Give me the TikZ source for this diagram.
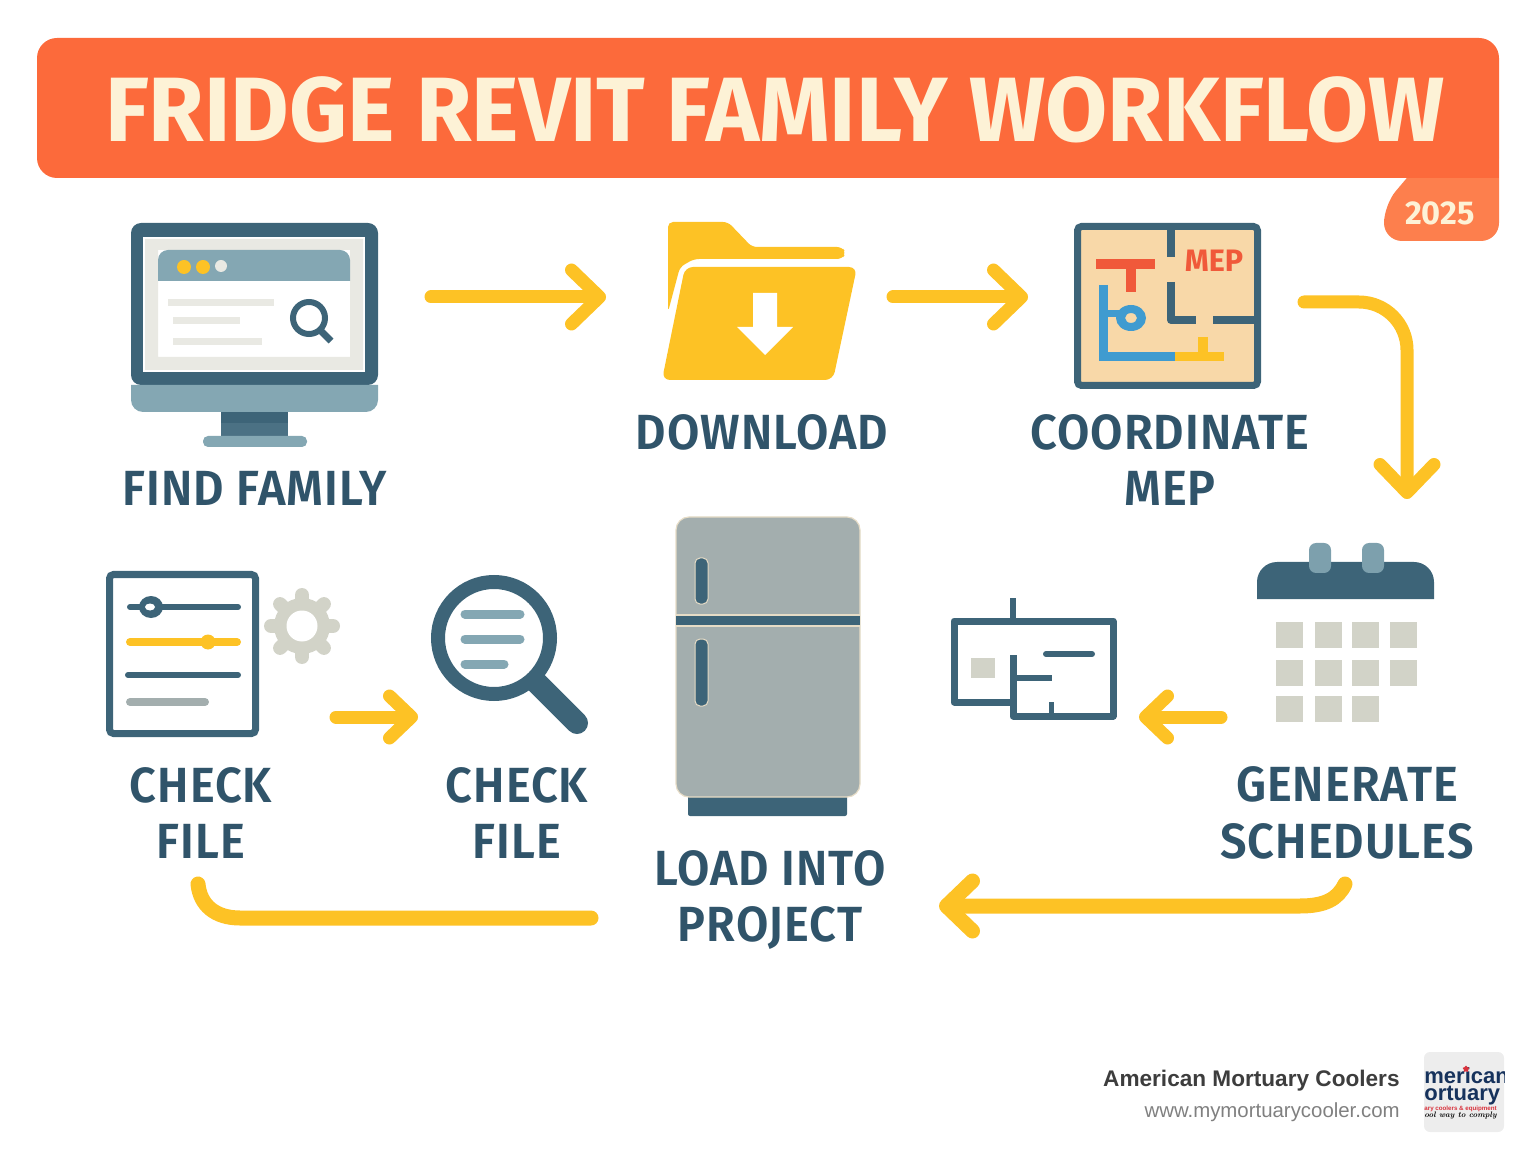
\documentclass[tikz,border=0pt]{standalone}
\usepackage{fontspec}
\usetikzlibrary{arrows.meta,shapes.geometric}
\newfontfamily\titlefont[FakeStretch=0.985]{Fira Sans}
\newfontfamily\labelfont[FakeStretch=0.95,LetterSpace=2]{Fira Sans SemiBold}
\newfontfamily\footfont{Liberation Sans}
\definecolor{deepblue}{HTML}{3D6478}
\definecolor{paleblue}{HTML}{84A7B3}
\definecolor{flowyellow}{HTML}{FDC225}
\definecolor{bannerorange}{HTML}{FC6A3B}
\definecolor{taborange}{HTML}{FD7F4D}
\definecolor{creamtext}{HTML}{FDF2D6}
\definecolor{labelblue}{HTML}{30546A}
\definecolor{softgrey}{HTML}{D2D3C8}
\definecolor{screengrey}{HTML}{E9E9E3}
\definecolor{fridgegrey}{HTML}{A3AEAE}
\definecolor{fridgeedge}{HTML}{E6DCC6}
\definecolor{planbeige}{HTML}{F8D8A8}
\definecolor{pipered}{HTML}{F0593A}
\definecolor{pipeblue}{HTML}{3F9BD0}
\definecolor{logonavy}{HTML}{16325C}
\definecolor{logored}{HTML}{D8323C}
\tikzset{
  flow/.style={draw=flowyellow, line width=6.5pt, line cap=round, line join=round, -{Straight Barb[length=14pt, width=27pt, round]}},
  flowsmall/.style={flow, -{Straight Barb[length=11pt, width=21pt, round]}},
  flowplain/.style={draw=flowyellow, line width=7.5pt, line cap=round},
  steplabel/.style={text=labelblue, align=center, inner sep=0pt, font=\labelfont\fontsize{24.7}{28.25}\selectfont},
  calsquare/.style={rectangle, fill=softgrey, inner sep=0pt, minimum width=13.5pt, minimum height=13pt},
  gearbit/.style={draw=softgrey, line width=7pt, line cap=round},
}
\begin{document}
\begin{tikzpicture}[x=0.5pt, y=-0.5pt]
  \useasboundingbox (0, 0) rectangle (1536, 1154);
  % Banner
  \fill[taborange, rounded corners=9pt] (1439, 140) -- (1384, 205) -- (1384, 241) -- (1499, 241) -- (1499, 140) -- cycle;
  \fill[bannerorange, rounded corners=10pt] (37, 38) rectangle (1499, 178);
  \fill[bannerorange] (1450, 150) rectangle (1499, 178);
  \node (title) [text=creamtext, inner sep=0pt, font=\titlefont\bfseries\fontsize{45.7}{50}\selectfont] at (775, 110) {FRIDGE REVIT FAMILY WORKFLOW};
  \node (year) [text=creamtext, inner sep=0pt, font=\titlefont\bfseries\fontsize{16.5}{20}\selectfont] at (1440, 213) {2025};
  % Monitor
  \fill[deepblue, rounded corners=5pt] (131, 385) -- (131, 223) -- (378, 223) -- (378, 385) -- cycle;
  \fill[white] (143, 237) rectangle (365, 372);
  \fill[screengrey, even odd rule] (145, 239) rectangle (363, 370) (158, 250) rectangle (350, 357);
  \fill[paleblue] (158, 281) [rounded corners=5pt] -- (158, 250) -- (350, 250) [sharp corners] -- (350, 281) -- cycle;
  \fill[flowyellow] (184, 267) circle[radius=7];
  \fill[flowyellow] (203, 267) circle[radius=7];
  \fill[screengrey] (221, 266) circle[radius=6];
  \draw[screengrey, line width=3.5pt] (168, 303) -- (274, 303);
  \draw[screengrey, line width=3.5pt] (173, 321) -- (240, 321);
  \draw[screengrey, line width=3.5pt] (173, 342) -- (262, 342);
  \draw[deepblue, line width=3pt] (309, 318) circle[radius=16];
  \draw[deepblue, line width=3.5pt] (320, 330) -- (331, 341);
  \fill[paleblue] (131, 385) [rounded corners=6pt] -- (131, 412) -- (378, 412) [sharp corners] -- (378, 385) -- cycle;
  \fill[deepblue] (221, 412) rectangle (288, 423);
  \fill[deepblue!80!paleblue] (221, 423) rectangle (288, 436);
  \fill[paleblue, rounded corners=2.5pt] (203, 436) rectangle (307, 447);
  % Folder
  \fill[flowyellow, rounded corners=2.5pt] (668, 312) -- (668, 222) -- (728, 222) -- (752, 247) -- (842, 247) -- (846, 253) -- (842, 259) -- (694, 259) -- (680, 267) -- cycle;
  \fill[flowyellow, rounded corners=4pt] (685, 267) -- (857, 267) -- (833, 380) -- (662, 380) -- cycle;
  \fill[white] (753, 293) -- (777, 293) -- (777, 327) -- (793, 327) -- (765, 355) -- (737, 327) -- (753, 327) -- cycle;
  % MEP plan
  \draw[deepblue, fill=planbeige, line width=3.5pt, rounded corners=2pt] (1077.5, 226.5) rectangle (1257.5, 385.5);
  \draw[deepblue, line width=4pt] (1171, 228) -- (1171, 257);
  \draw[deepblue, line width=4pt, line join=round] (1171, 282) -- (1171, 320) -- (1196, 320);
  \draw[deepblue, line width=4pt] (1213, 320) -- (1256, 320);
  \draw[pipered, line width=5pt] (1096, 264) -- (1155, 264);
  \draw[pipered, line width=5pt] (1131, 264) -- (1131, 292);
  \draw[pipeblue, line width=4.5pt] (1103, 285) -- (1103, 357) -- (1175, 357);
  \draw[pipeblue, line width=3.5pt] (1103, 314) -- (1122, 314);
  \fill[pipeblue, even odd rule] (1131, 318) ellipse[x radius=15, y radius=13] (1131, 318) ellipse[x radius=6, y radius=5];
  \draw[flowyellow, line width=4.5pt] (1175, 357) -- (1224, 357);
  \draw[flowyellow, line width=5pt] (1203, 337) -- (1203, 357);
  \node (mep-tag) [text=pipered, inner sep=0pt, font=\titlefont\bfseries\fontsize{15.5}{18}\selectfont] at (1214, 261) {MEP};
  % Checklist
  \draw[deepblue, line width=3.5pt, rounded corners=2pt] (109.5, 574.5) rectangle (255.5, 733.5);
  \draw[deepblue, line width=3pt, line cap=round] (130, 607) -- (238, 607);
  \fill[deepblue] (151, 607) ellipse[x radius=12, y radius=11];
  \fill[white] (150, 607) ellipse[x radius=5, y radius=3.5];
  \draw[flowyellow, line width=4pt, line cap=round] (130, 642) -- (237, 642);
  \fill[flowyellow] (208, 642) circle[radius=7.5];
  \draw[deepblue, line width=3pt, line cap=round] (128, 675) -- (238, 675);
  \draw[fridgegrey, line width=4pt, line cap=round] (130, 702) -- (205, 702);
  % Gear
  \draw[gearbit] (302, 626) -- ++(0:31);
  \draw[gearbit] (302, 626) -- ++(45:31);
  \draw[gearbit] (302, 626) -- ++(90:31);
  \draw[gearbit] (302, 626) -- ++(135:31);
  \draw[gearbit] (302, 626) -- ++(180:31);
  \draw[gearbit] (302, 626) -- ++(225:31);
  \draw[gearbit] (302, 626) -- ++(270:31);
  \draw[gearbit] (302, 626) -- ++(315:31);
  \fill[softgrey] (302, 626) circle[radius=28];
  \fill[white] (302, 626) circle[radius=15.5];
  % Magnifier
  \draw[deepblue, line width=11pt, line cap=round] (537, 683) -- (577, 723);
  \draw[deepblue, fill=white, line width=7pt] (494, 638) circle[radius=56];
  \draw[paleblue, line width=4.5pt, line cap=round] (465, 614) -- (520, 614);
  \draw[paleblue, line width=4.5pt, line cap=round] (465, 639) -- (520, 639);
  \draw[paleblue, line width=4.5pt, line cap=round] (465, 664) -- (504, 664);
  % Fridge
  \fill[deepblue, rounded corners=1pt] (688, 790) rectangle (847, 816);
  \draw[fridgeedge, fill=fridgegrey, line width=0.6pt, rounded corners=6.5pt] (676, 517) rectangle (860, 797);
  \fill[fridgeedge] (676, 614) rectangle (860, 627);
  \fill[deepblue] (676, 616) rectangle (860, 625);
  \draw[fridgeedge, fill=deepblue, line width=0.5pt, rounded corners=2.5pt] (695, 558) rectangle (708, 604);
  \draw[fridgeedge, fill=deepblue, line width=0.5pt, rounded corners=2.5pt] (695, 639) rectangle (708, 706);
  % Floor plan
  \draw[deepblue, line width=3.5pt, line join=round] (1013, 702) -- (954, 702) -- (954, 621) -- (1113, 621) -- (1113, 716) -- (1013, 716) -- (1013, 655);
  \draw[deepblue, line width=3pt] (1013, 598) -- (1013, 621);
  \draw[deepblue, line width=3pt, line cap=round] (1046, 654) -- (1092, 654);
  \draw[deepblue, line width=3pt] (1013, 678) -- (1052, 678);
  \draw[deepblue, line width=2.5pt] (1051, 702) -- (1051, 716);
  \fill[softgrey] (971, 658) rectangle (995, 678);
  % Calendar
  \fill[deepblue] (1257, 599) [rounded corners=10pt] -- (1257, 562) -- (1434, 562) [sharp corners] -- (1434, 599) -- cycle;
  \fill[paleblue!90!deepblue, rounded corners=3.5pt] (1309, 543) rectangle (1331, 573);
  \fill[paleblue!90!deepblue, rounded corners=3.5pt] (1362, 543) rectangle (1384, 573);
  \node (cal-1) [calsquare] at (1289.5, 635) {};
  \node (cal-2) [calsquare] at (1328, 635) {};
  \node (cal-3) [calsquare] at (1365.5, 635) {};
  \node (cal-4) [calsquare] at (1403.5, 635) {};
  \node (cal-5) [calsquare] at (1289.5, 672.5) {};
  \node (cal-6) [calsquare] at (1328, 672.5) {};
  \node (cal-7) [calsquare] at (1365.5, 672.5) {};
  \node (cal-8) [calsquare] at (1403.5, 672.5) {};
  \node (cal-9) [calsquare] at (1289.5, 709) {};
  \node (cal-10) [calsquare] at (1328, 709) {};
  \node (cal-11) [calsquare] at (1365.5, 709) {};
  % Labels
  \node (find) [steplabel] at (255, 488) {FIND FAMILY};
  \node (download) [steplabel] at (762, 432) {DOWNLOAD};
  \node (coordinate) [steplabel] at (1170, 460) {COORDINATE\\MEP};
  \node (checkone) [steplabel] at (201, 813) {CHECK\\FILE};
  \node (checktwo) [steplabel] at (517, 813) {CHECK\\FILE};
  \node (load) [steplabel] at (770, 900) {LOAD INTO\\PROJECT};
  \node (generate) [steplabel] at (1347, 813) {GENERATE\\SCHEDULES};
  % Arrow
  \coordinate (find-out) at (431, 297);
  \coordinate (download-in) at (606, 297);
  \coordinate (download-out) at (893, 297);
  \coordinate (coordinate-in) at (1028, 297);
  \coordinate (coordinate-out) at (1304, 302);
  \coordinate (generate-in) at (1407, 499);
  \coordinate (generate-left) at (1221, 717);
  \coordinate (plan-in) at (1139, 717);
  \coordinate (generate-out) at (1345, 884);
  \coordinate (load-in) at (939, 906);
  \coordinate (load-out) at (591, 918);
  \coordinate (checkone-out) at (198, 884);
  \coordinate (checkone-right) at (336, 717);
  \coordinate (checktwo-in) at (418, 717);
  \draw[flow] (find-out) -- (download-in);
  \draw[flow] (download-out) -- (coordinate-in);
  \draw[flow, rounded corners=24pt] (coordinate-out) -| (generate-in);
  \draw[flowsmall] (generate-left) -- (plan-in);
  \draw[flow, line width=7.5pt, -{Straight Barb[length=13pt, width=25pt, round]}] (generate-out) .. controls (1338, 899) and (1325, 906) .. (1300, 906) -- (load-in);
  \draw[flowplain] (load-out) -- (240, 918) .. controls (215, 918) and (200, 905) .. (checkone-out);
  \draw[flowsmall] (checkone-right) -- (checktwo-in);
  % Footer
  \node (brand) [anchor=base east, inner sep=0pt, text=black!76, font=\footfont\bfseries\fontsize{11.3}{14}\selectfont] at (1400, 1086) {American Mortuary Coolers};
  \node (site) [anchor=base east, inner sep=0pt, text=black!50, font=\footfont\fontsize{10.2}{12}\selectfont] at (1400, 1117) {www.mymortuarycooler.com};
  % Logo
  \fill[black!7!white, rounded corners=3pt] (1424, 1052) rectangle (1504, 1132);
  \begin{scope}
    \clip (1424, 1052) rectangle (1504, 1132);
    \node (logo-a) [anchor=west, align=left, inner sep=0pt, text=logonavy, font=\footfont\bfseries\fontsize{11}{8.5}\selectfont] at (1424, 1086) {merican\\ortuary};
    \node (logo-c) [anchor=base west, inner sep=0pt, text=logored, font=\footfont\bfseries\fontsize{3.1}{4}\selectfont] at (1424, 1110) {ary coolers \& equipment};
    \node (logo-d) [anchor=base west, inner sep=0pt, text=black, font=\bfseries\itshape\fontsize{4}{5}\selectfont] at (1424, 1117) {ool way to comply};
    \node (logo-star) [star, star points=5, fill=logored, inner sep=0pt, minimum size=3.5pt] at (1466, 1069) {};
  \end{scope}
\end{tikzpicture}
\end{document}
